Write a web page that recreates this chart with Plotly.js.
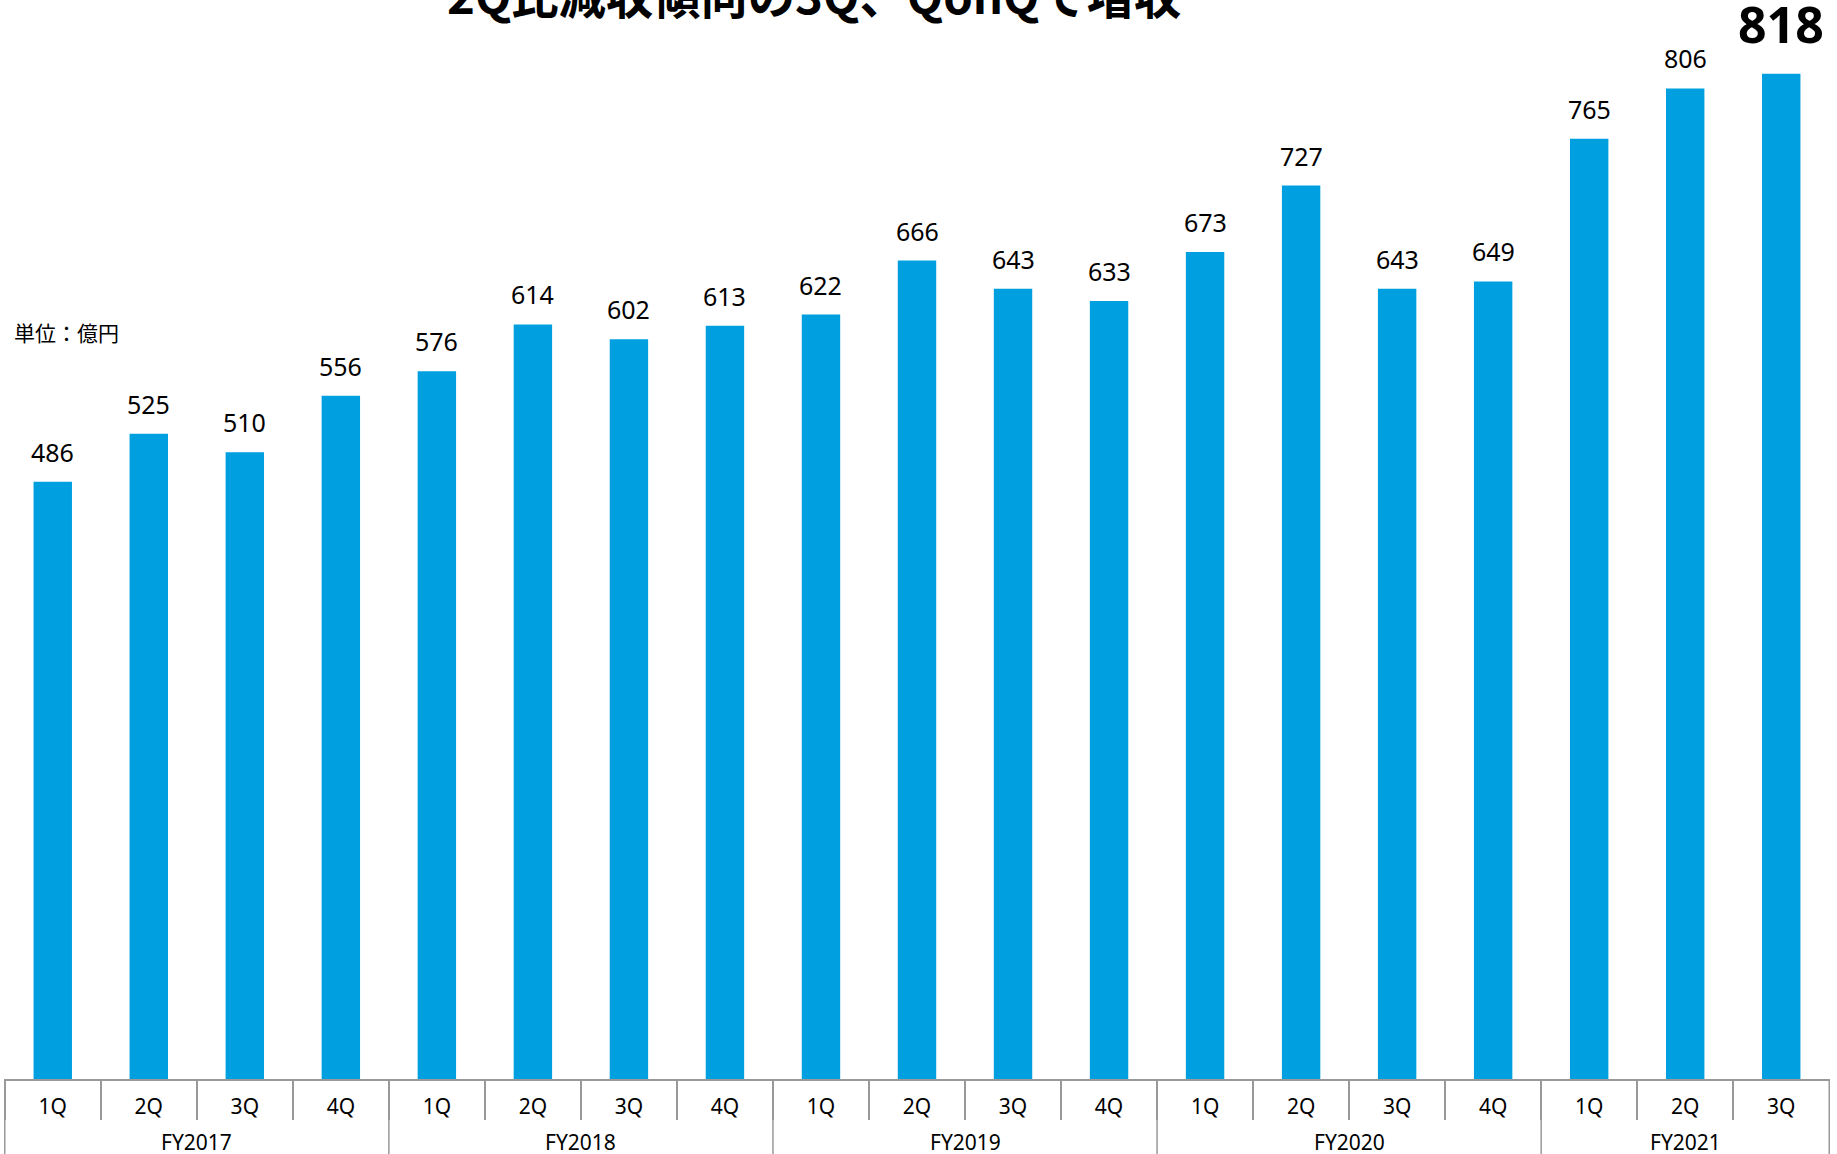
<!DOCTYPE html>
<html>
<head>
<meta charset="utf-8">
<script src="https://cdn.plot.ly/plotly-3.0.1.min.js"></script>
<style>html,body{margin:0;padding:0;background:#fff;}#chart{width:1837px;height:1154px;}</style>
</head>
<body>
<div id="chart"></div>
<script>
// ---- data ----
const fiscalYears = ['FY2017','FY2017','FY2017','FY2017','FY2018','FY2018','FY2018','FY2018','FY2019','FY2019','FY2019','FY2019','FY2020','FY2020','FY2020','FY2020','FY2021','FY2021','FY2021'];
const quarters = ['1Q','2Q','3Q','4Q','1Q','2Q','3Q','4Q','1Q','2Q','3Q','4Q','1Q','2Q','3Q','4Q','1Q','2Q','3Q'];
const revenue = [486,525,510,556,576,614,602,613,622,666,643,633,673,727,643,649,765,806,818];
const titleText = '2Q比減収傾向の3Q、QonQで増収';
const unitText = '単位：億円';

// ---- chart ----
const barColor = '#009FE0';
const lineColor = '#999999';
const numFont = 'Noto Sans, Open Sans, sans-serif';
const jpFont = 'Noto Sans CJK JP, sans-serif';

// unique category keys (one per quarter), shown with quarter labels
const keys = fiscalYears.map((fy, i) => fy + ' ' + quarters[i]);

// fiscal-year groups: first/last category index
const groups = [];
fiscalYears.forEach((fy, i) => {
  const g = groups[groups.length - 1];
  if (g && g.name === fy) g.end = i;
  else groups.push({name: fy, start: i, end: i});
});

const trace = {
  type: 'bar',
  x: keys,
  y: revenue,
  marker: {color: barColor, line: {width: 0}},
  hoverinfo: 'skip'
};

const last = revenue.length - 1;
const labelAnnotations = revenue.map((v, i) => ({
  x: keys[i], y: v, xref: 'x', yref: 'y',
  text: i === last ? '<b>' + v + '</b>' : String(v),
  showarrow: false,
  xanchor: 'center', yanchor: 'bottom',
  yshift: i === last ? 14 : 11,
  font: {family: numFont, size: i === last ? 50 : 25, color: '#000'}
}));

const fyLabelY = -63 / 1079;
const fyAnnotations = groups.map(g => ({
  x: (g.start + g.end) / 2, y: fyLabelY, xref: 'x', yref: 'paper',
  text: g.name, showarrow: false, xanchor: 'center', yanchor: 'middle',
  font: {family: numFont, size: 21, color: '#000'}
}));

const dividerBottom = -80 / 1079;
const boundaries = groups.map(g => g.start - 0.5).concat([groups[groups.length - 1].end + 0.5]);
const dividerShapes = boundaries.map(b => ({
  type: 'line', xref: 'x', yref: 'paper', x0: b, x1: b, y0: 0, y1: dividerBottom,
  line: {color: lineColor, width: 1.5}, layer: 'above'
}));

const layout = {
  width: 1837, height: 1154,
  margin: {l: 4, r: 7, t: 0, b: 75, pad: 0},
  paper_bgcolor: '#fff', plot_bgcolor: '#fff',
  bargap: 0.6,
  showlegend: false,
  xaxis: {
    type: 'category',
    tickvals: keys, ticktext: quarters,
    tickson: 'boundaries',
    showline: true, linecolor: lineColor, linewidth: 1.5,
    ticks: 'outside', ticklen: 39, tickcolor: lineColor, tickwidth: 1.5,
    ticklabelstandoff: 8,
    tickfont: {family: numFont, size: 21, color: '#000'},
    showgrid: false, zeroline: false, automargin: false
  },
  yaxis: {
    range: [0, 878], visible: false, showgrid: false, zeroline: false, fixedrange: true
  },
  shapes: dividerShapes,
  annotations: labelAnnotations.concat(fyAnnotations).concat([
    {
      xref: 'paper', yref: 'paper', x: 0.4436, y: 1.0, yshift: 7, xanchor: 'center', yanchor: 'middle',
      text: '<b>' + titleText + '</b>', showarrow: false,
      font: {family: jpFont, size: 47.3, color: '#000'}
    },
    {
      xref: 'paper', yref: 'paper', x: 0.0045, y: (1079 - 332) / 1079, xanchor: 'left', yanchor: 'middle',
      text: unitText, showarrow: false,
      font: {family: jpFont, size: 21, color: '#000'}
    }
  ])
};

Plotly.newPlot('chart', [trace], layout, {displayModeBar: false, staticPlot: true});
</script>
</body>
</html>
